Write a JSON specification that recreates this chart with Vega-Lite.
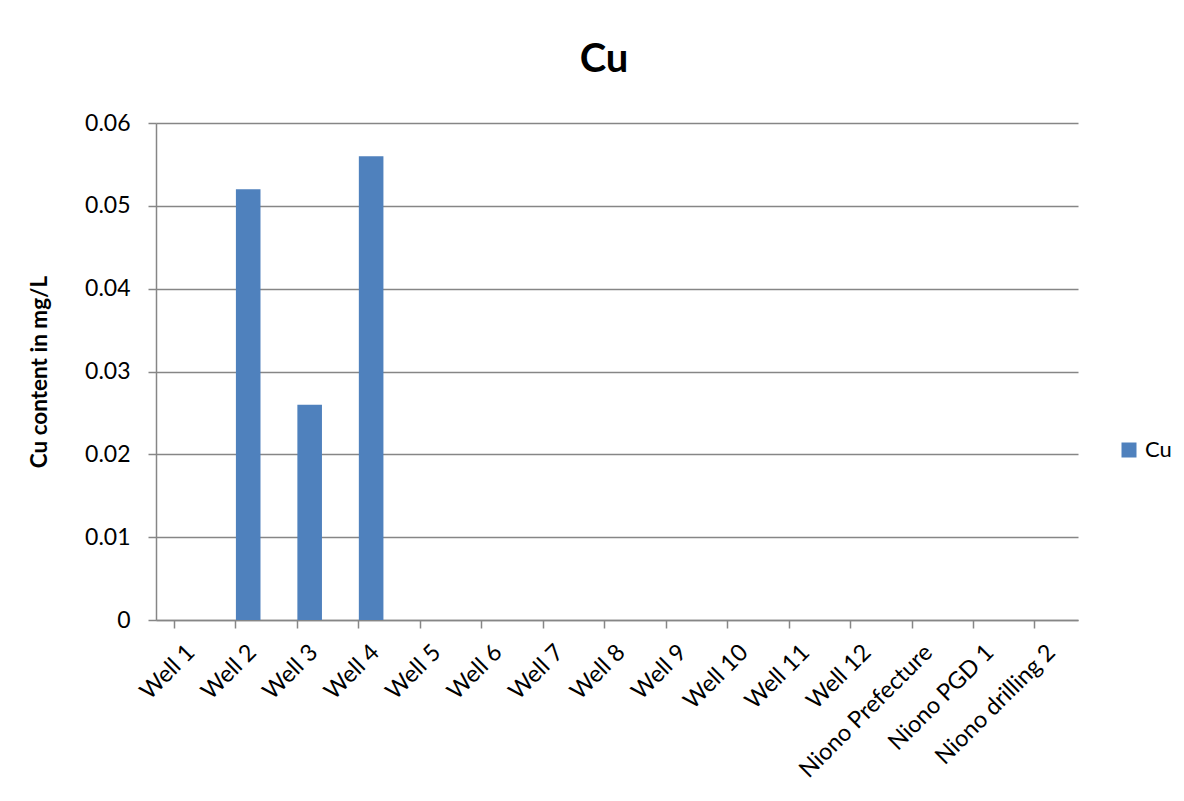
{
  "$schema": "https://vega.github.io/schema/vega-lite/v6.json",
  "autosize": {"type": "none"},
  "padding": {"left": 156, "top": 123, "right": 106, "bottom": 181},
  "width": 922,
  "height": 497,
  "background": "white",
  "title": {"text": "Cu", "fontSize": 40, "fontWeight": "bold", "font": "Lato", "color": "black", "anchor": "middle", "dx": -13, "offset": 32},
  "data": {"values": [
    {"site": "Well 1", "cu": 0},
    {"site": "Well 2", "cu": 0.052},
    {"site": "Well 3", "cu": 0.026},
    {"site": "Well 4", "cu": 0.056},
    {"site": "Well 5", "cu": 0},
    {"site": "Well 6", "cu": 0},
    {"site": "Well 7", "cu": 0},
    {"site": "Well 8", "cu": 0},
    {"site": "Well 9", "cu": 0},
    {"site": "Well 10", "cu": 0},
    {"site": "Well 11", "cu": 0},
    {"site": "Well 12", "cu": 0},
    {"site": "Niono Prefecture", "cu": 0},
    {"site": "Niono PGD 1", "cu": 0},
    {"site": "Niono drilling 2", "cu": 0}
  ]},
  "mark": {"type": "bar", "color": "#4F81BD"},
  "encoding": {
    "x": {
      "field": "site", "type": "nominal", "sort": null,
      "scale": {"paddingInner": 0.6, "paddingOuter": 0.3},
      "axis": {
        "title": null, "labelAngle": -45, "labelFontSize": 23.5, "labelFont": "Lato", "labelColor": "black", "labelLimit": 400,
        "bandPosition": 0, "tickSize": 8, "tickColor": "#868686", "tickWidth": 1.5,
        "domainColor": "#868686", "domainWidth": 1.5, "labelPadding": 12, "labelOffset": -4, "grid": false
      }
    },
    "y": {
      "field": "cu", "type": "quantitative",
      "scale": {"domain": [0, 0.06], "nice": false},
      "axis": {
        "title": "Cu content in mg/L", "titleFontSize": 22.5, "titleFont": "Lato", "titleFontWeight": "bold", "titleColor": "black", "titlePadding": 33,
        "values": [0, 0.01, 0.02, 0.03, 0.04, 0.05, 0.06], "format": ".2~f",
        "labelFontSize": 23, "labelFont": "Lato", "labelColor": "black", "labelPadding": 18,
        "tickSize": 8, "tickColor": "#868686", "tickWidth": 1.5,
        "domainColor": "#868686", "domainWidth": 1.5,
        "grid": true, "gridColor": "#868686", "gridWidth": 1.5
      }
    },
    "color": {
      "datum": "Cu", "type": "nominal",
      "scale": {"range": ["#4F81BD"]},
      "legend": {"title": null, "orient": "none", "legendX": 962, "legendY": 316, "symbolType": "square", "symbolSize": 225, "symbolStrokeWidth": 0, "labelFontSize": 22, "labelFont": "Lato", "labelColor": "black", "labelOffset": 5}
    }
  },
  "config": {"view": {"stroke": null}}
}
